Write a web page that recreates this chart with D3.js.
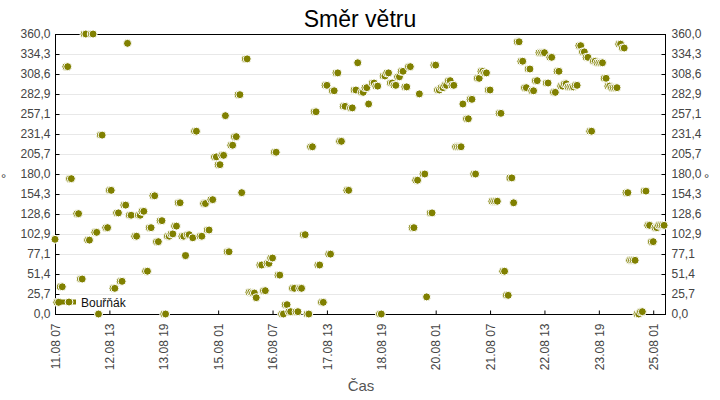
<!DOCTYPE html>
<html>
<head>
<meta charset="utf-8">
<script src="https://cdn.jsdelivr.net/npm/d3@7"></script>
<style>
  html, body { margin: 0; padding: 0; background: #fff; }
  svg { display: block; font-family: "Liberation Sans", Arial, sans-serif; }
</style>
</head>
<body>
<svg id="chart" width="720" height="400"></svg>
<script>
// ---- data ----
const chartTitle = "Směr větru";
const seriesName = "Bouřňák";
const xTitle = "Čas";
const yTitle = "°";
const startTime = "2013-08-11 07"; // first hour of the record
const endHours = 336.5;             // length of the time axis in hours
const xTickLabels = ["11.08 07","12.08 13","13.08 19","15.08 01","16.08 07","17.08 13",
                     "18.08 19","20.08 01","21.08 07","22.08 13","23.08 19","25.08 01"];
const yMax = 360;
const yTickCount = 14;

// hours since startTime
const hours = [
  0,1,2,3,4,6,7,8,9,12,13,14,15,16,17,18,19,20,21,22,23,24,25,26,
  28,29,30,31,32,33,34,35,36,37,38,39,40,41,42,44,45,46,47,48,49,50,51,52,53,54,55,56,57,58,59,
  60,61,62,63,64,65,66,67,68,69,70,71,72,73,74,76,77,78,80,81,82,83,84,85,86,87,88,89,90,91,92,93,94,95,96,97,98,99,100,101,102,103,
  105,106,107,108,109,110,111,
  113,114,115,116,117,118,119,120,121,122,123,124,125,126,127,128,129,130,131,132,133,134,135,136,137,138,139,140,
  141,142,143,144,145,146,147,148,149,150,151,152,153,154,155,156,157,158,159,160,161,162,163,164,165,166,167,
  169,170,171,172,173,
  175,176,177,178,179,180,181,182,183,184,185,186,187,188,189,190,191,192,193,194,195,196,197,198,199,200,201,
  203,204,205,
  207,208,209,210,211,212,213,214,215,216,217,218,219,220,221,222,223,224,225,
  227,228,229,230,231,232,233,234,235,236,237,238,239,240,241,242,243,244,245,246,247,248,249,250,251,252,253,
  255,256,257,258,259,260,261,262,263,264,265,266,267,268,269,270,271,272,273,274,275,276,277,278,279,280,
  281,282,283,284,285,286,287,288,289,290,291,292,293,294,295,296,297,298,299,300,301,302,303,304,305,306,307,308,
  309,310,311,312,313,314,315,316,317,318,319,320,321,322,323,324,325,326,327,328,329,330,331,332,333,334,335,336
];
// wind direction in degrees, one per entry of hours
const directions = [
  96,15,15,35,35,318,318,174,174,129,129,45,45,360,360,95,95,360,360,105,105,0,230,230,
  111,111,159,159,33,33,130,130,42,42,140,140,348,127,127,100,100,127,127,132,132,55,55,111,111,152,152,93,93,120,120,
  0,0,100,100,103,103,113,113,143,143,100,100,75,102,102,98,235,235,100,100,142,142,108,108,147,147,202,202,192,192,204,204,255,80,80,217,217,228,228,282,282,156,
  328,328,28,28,27,27,21,
  63,63,30,30,65,65,72,72,208,208,50,50,0,0,12,12,3,3,33,33,3,3,33,33,102,102,0,0,
  215,215,260,260,63,63,15,15,294,294,77,77,287,287,310,310,222,222,267,267,159,159,265,265,288,288,323,
  285,285,291,291,270,
  297,297,293,293,0,0,306,306,310,310,297,297,294,294,305,305,312,312,292,292,318,318,111,111,172,172,283,
  180,180,22,
  130,130,320,320,288,288,291,291,294,294,300,300,294,294,215,215,215,215,270,
  251,251,276,276,180,180,303,303,312,312,310,310,288,288,145,145,145,145,258,258,55,55,24,24,175,175,143,
  350,350,325,325,291,291,315,315,287,287,300,300,336,336,336,336,297,297,330,330,285,285,312,312,293,293,
  296,296,292,292,292,292,294,294,345,345,337,337,330,330,235,235,325,325,323,323,323,323,303,303,293,293,291,291,
  291,291,347,347,342,342,156,156,69,69,69,69,0,0,3,3,158,158,114,114,93,93,111,111,114,114,114,114
];

// ---- chart ----
const M = { left: 55, right: 665, top: 34, bottom: 314 };
const svg = d3.select("#chart");
const olive = "#808000";
const tickColor = "#444";

const parseStart = d3.timeParse("%Y-%m-%d %H");
const t0 = parseStart(startTime);
const hourMs = 3600 * 1000;
const toDate = h => new Date(t0.getTime() + h * hourMs);
const year = t0.getFullYear();
const parseTick = d3.timeParse("%Y %d.%m %H");
const xTickValues = xTickLabels.map(s => parseTick(year + " " + s));

const x = d3.scaleTime().domain([t0, toDate(endHours)]).range([M.left, M.right]);
const y = d3.scaleLinear().domain([0, yMax]).range([M.bottom, M.top]);
const yTickValues = d3.range(yTickCount + 1).map(i => i * yMax / yTickCount);
const fmtY = v => d3.format(".1f")(v).replace(".", ",");

// title
svg.append("text").attr("x", 360).attr("y", 27).attr("text-anchor", "middle")
  .attr("font-size", 23).attr("fill", "#000").text(chartTitle);

// gridlines
svg.append("g").selectAll("line").data(yTickValues.slice(1, -1)).join("line")
  .attr("x1", M.left).attr("x2", M.right)
  .attr("y1", d => Math.round(y(d)) + 0.5).attr("y2", d => Math.round(y(d)) + 0.5)
  .attr("stroke", "#e8e8e8").attr("stroke-width", 1);

// axes
function styleAxis(g) {
  g.select(".domain").remove();
  g.selectAll(".tick line").attr("stroke", "#000");
  g.selectAll(".tick text").attr("fill", tickColor).attr("font-size", 12)
    .attr("font-family", "Liberation Sans, Arial, sans-serif");
}
svg.append("g").attr("transform", `translate(${M.left + 0.5},0)`)
  .call(d3.axisLeft(y).tickValues(yTickValues).tickFormat(fmtY).tickSize(-4).tickPadding(5))
  .call(styleAxis);
svg.append("g").attr("transform", `translate(${M.right + 0.5},0)`)
  .call(d3.axisRight(y).tickValues(yTickValues).tickFormat(fmtY).tickSize(-4).tickPadding(6))
  .call(styleAxis);
const xg = svg.append("g").attr("transform", `translate(0,${M.bottom + 0.5})`)
  .call(d3.axisBottom(x).tickValues(xTickValues).tickFormat(d3.timeFormat("%d.%m %H")).tickSize(-4))
  .call(styleAxis);
xg.selectAll(".tick text")
  .attr("transform", "rotate(-90)")
  .attr("x", -9).attr("y", 0).attr("dy", "0.35em")
  .attr("text-anchor", "end");

// frame
svg.append("rect").attr("x", M.left + 0.5).attr("y", M.top + 0.5)
  .attr("width", M.right - M.left).attr("height", M.bottom - M.top)
  .attr("fill", "none").attr("stroke", "#000").attr("stroke-width", 1);

// axis titles
svg.append("text").attr("x", 361).attr("y", 391).attr("text-anchor", "middle")
  .attr("font-size", 15).attr("fill", "#555").text(xTitle);
svg.append("text").attr("x", 1).attr("y", 183).attr("font-size", 13)
  .attr("fill", "#444").text(yTitle);
svg.append("text").attr("x", 704).attr("y", 183).attr("font-size", 13)
  .attr("fill", "#444").text(yTitle);

// points
const points = hours.map((h, i) => ({ t: toDate(h), v: directions[i] }));
svg.append("g").selectAll("circle").data(points).join("circle")
  .attr("cx", d => x(d.t)).attr("cy", d => y(d.v)).attr("r", 4)
  .attr("fill", olive).attr("stroke", "#fff").attr("stroke-width", 1);

// legend
const lg = svg.append("g");
lg.append("line").attr("x1", 57).attr("x2", 76).attr("y1", 302).attr("y2", 302)
  .attr("stroke", olive).attr("stroke-width", 5);
lg.append("circle").attr("cx", 69).attr("cy", 302).attr("r", 4)
  .attr("fill", olive).attr("stroke", "#fff").attr("stroke-width", 1);
lg.append("text").attr("x", 81).attr("y", 306.5).attr("font-size", 12)
  .attr("fill", "#111").text(seriesName);
</script>
</body>
</html>
